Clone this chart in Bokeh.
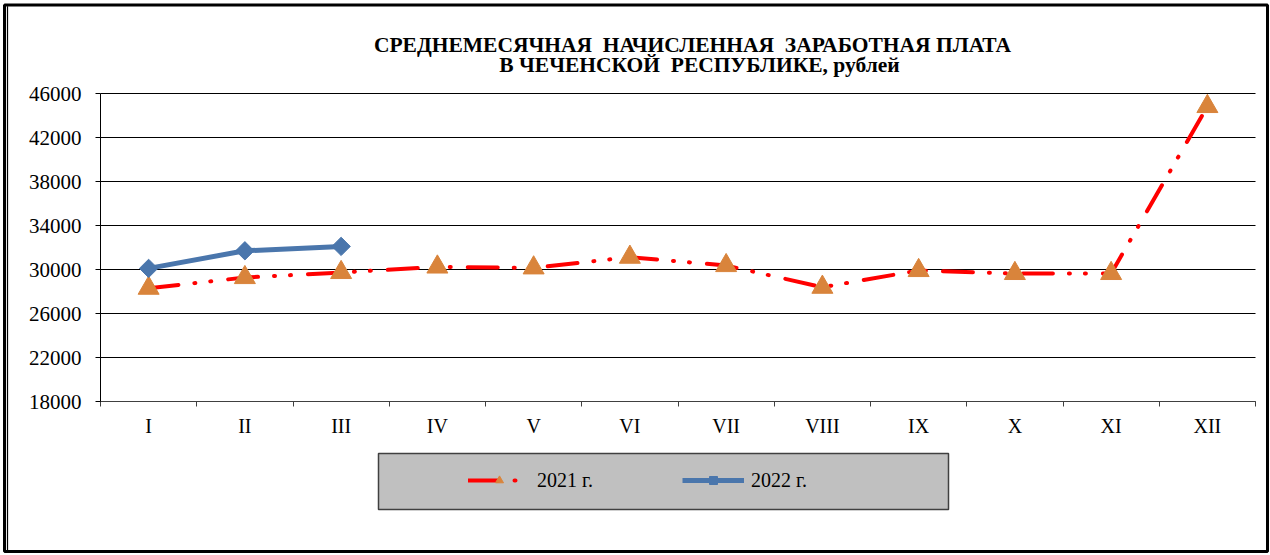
import numpy as np
from bokeh.plotting import figure
from bokeh.models import Range1d, FixedTicker, Label, BoxAnnotation, Legend, LegendItem
from bokeh.embed import file_html
from bokeh.resources import INLINE

# ---- data ----
months = ["I", "II", "III", "IV", "V", "VI", "VII", "VIII", "IX", "X", "XI", "XII"]
wage_2021 = [28300, 29270, 29730, 30230, 30150, 31120, 30360, 28390, 29910, 29640, 29640, 44820]
wage_2022 = [30100, 31700, 32100]
y_ticks = [18000, 22000, 26000, 30000, 34000, 38000, 42000, 46000]
title_1 = "СРЕДНЕМЕСЯЧНАЯ\u00a0 НАЧИСЛЕННАЯ\u00a0 ЗАРАБОТНАЯ ПЛАТА"
title_2 = "В ЧЕЧЕНСКОЙ\u00a0 РЕСПУБЛИКЕ, рублей"
labels = ["2021 г.", "2022 г."]

xs = list(range(1, len(months) + 1))
xs22 = xs[:len(wage_2022)]
x_lo, x_hi = 0.5, len(months) + 0.5
y_lo, y_hi = y_ticks[0], y_ticks[-1]

# ---- layout geometry (pixels) ----
W, H = 1270, 555
PL, PR, PT, PB = 100, 1255, 93, 401      # plot-area edges on the canvas
kx = (PR - PL) / (x_hi - x_lo)
ky = (PB - PT) / (y_hi - y_lo)
x_start, x_end = x_lo - PL / kx, x_hi + (W - PR) / kx
y_start, y_end = y_lo - (H - PB) / ky, y_hi + PT / ky

def dx(px):
    return x_start + px / kx

def dy(py):
    return y_end - py / ky

FONT = "Liberation Serif"

p = figure(width=W, height=H, output_backend="svg", toolbar_location=None,
           x_range=Range1d(x_start, x_end), y_range=Range1d(y_start, y_end),
           min_border=0, min_border_left=0, min_border_right=0,
           min_border_top=0, min_border_bottom=0)
p.outline_line_color = None
p.background_fill_color = "white"
p.border_fill_color = "white"
p.xgrid.visible = False
p.ygrid.visible = False

# x axis
p.xaxis.fixed_location = y_lo
p.xaxis.bounds = (x_lo, x_hi)
p.xaxis.ticker = FixedTicker(ticks=xs, minor_ticks=[x + 0.5 for x in range(0, len(months) + 1)])
p.xaxis.major_label_overrides = {x: m for x, m in zip(xs, months)}
p.xaxis.major_tick_line_color = None
p.xaxis.major_tick_out = 0
p.xaxis.major_tick_in = 0
p.xaxis.minor_tick_out = 5
p.xaxis.minor_tick_in = 0
p.xaxis.minor_tick_line_color = "#404040"
p.xaxis.axis_line_color = "#404040"
p.xaxis.major_label_text_font = FONT
p.xaxis.major_label_text_font_size = "20px"
p.xaxis.major_label_text_color = "black"
p.xaxis.major_label_standoff = 8

# y axis
p.yaxis.fixed_location = x_lo
p.yaxis.bounds = (y_lo, y_hi)
p.yaxis.ticker = FixedTicker(ticks=y_ticks)
p.yaxis.minor_tick_line_color = None
p.yaxis.major_tick_out = 5
p.yaxis.major_tick_in = 0
p.yaxis.major_tick_line_color = "black"
p.yaxis.axis_line_color = "black"
p.yaxis.major_label_text_font = FONT
p.yaxis.major_label_text_font_size = "21px"
p.yaxis.major_label_text_color = "black"
p.yaxis.major_label_standoff = 14

# horizontal gridlines
p.segment(x0=[x_lo] * len(y_ticks), x1=[x_hi] * len(y_ticks), y0=y_ticks, y1=y_ticks,
          line_color="black", line_width=1)

# outer chart border (double line on the left)
p.add_layout(BoxAnnotation(left=dx(4), right=dx(1267), top=dy(4.5), bottom=dy(551),
                           fill_alpha=0, line_color="black", line_alpha=1, line_width=3))
p.add_layout(BoxAnnotation(left=dx(7), right=dx(7.01), top=dy(6), bottom=dy(550),
                           fill_alpha=0, line_color="black", line_alpha=1, line_width=1.2))

# titles
p.add_layout(Label(x=dx(692), y=dy(44.5), text=title_1, text_color="black",
                   text_align="center", text_baseline="alphabetic",
                   text_font=FONT, text_font_style="bold", text_font_size="21.5px"))
p.add_layout(Label(x=dx(699), y=dy(64.5), text=title_2, text_color="black",
                   text_align="center", text_baseline="alphabetic",
                   text_font=FONT, text_font_style="bold", text_font_size="21.5px"))

# series
r21 = p.line(xs, wage_2021, line_color="#FF0000", line_width=4,
             line_dash="30 16 1 15 1 17", line_cap="round")
s21 = p.scatter(xs, wage_2021, marker="triangle", size=21,
                fill_color="#D9843B", line_color="#D9843B")
r22 = p.line(xs22, wage_2022, line_color="#4A76AC", line_width=5)
s22 = p.scatter(xs22, wage_2022, marker="square", angle=np.pi / 4, size=13,
                fill_color="#4A76AC", line_color="#4A76AC")

# legend box
p.add_layout(BoxAnnotation(left=dx(378), right=dx(948), top=dy(453), bottom=dy(509),
                           fill_color="#C0C0C0", fill_alpha=1,
                           line_color="#404040", line_alpha=1, line_width=1.5))

legend = Legend(items=[LegendItem(label=labels[0], renderers=[r21, s21]),
                       LegendItem(label=labels[1], renderers=[r22, s22])],
                orientation="horizontal", location=(468, H - 491.5),
                background_fill_alpha=0, border_line_color=None,
                glyph_width=62, glyph_height=20, label_height=20, label_standoff=7,
                label_width=60, spacing=85, padding=0, margin=0,
                label_text_font=FONT, label_text_font_size="20px",
                label_text_color="black")
p.add_layout(legend, "center")

open("out.html", "w").write(file_html(p, INLINE))
